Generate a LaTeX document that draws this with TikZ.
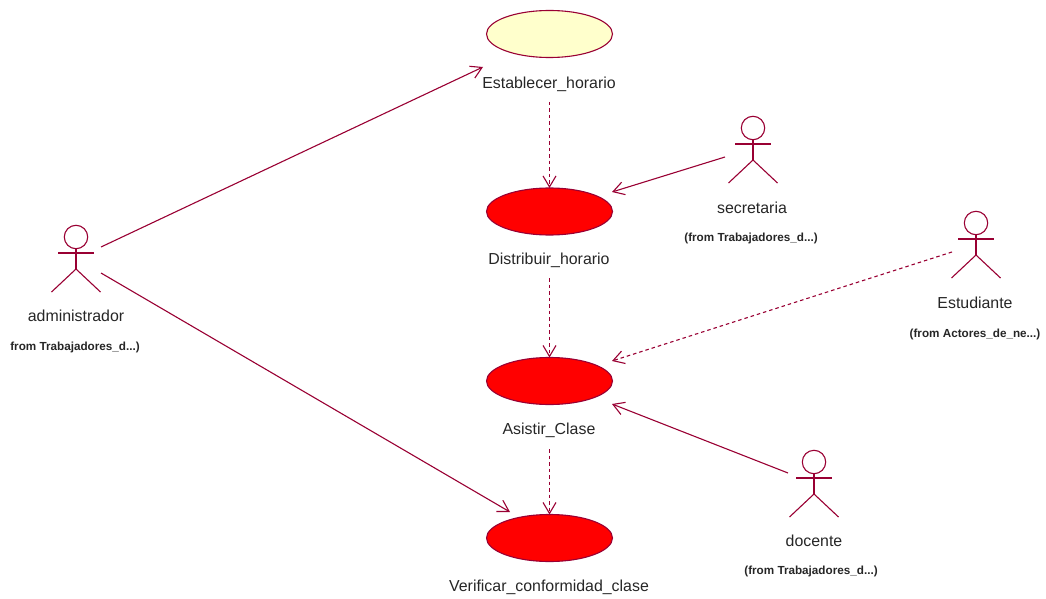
\documentclass[tikz,border=0pt]{standalone}
\usepackage{fontspec}
\setmainfont{Liberation Sans}
\usetikzlibrary{arrows.meta,calc,shapes.geometric}
\definecolor{rose}{HTML}{990033}
\definecolor{cream}{HTML}{FFFFCC}
\tikzset{
  x=1pt,y=-1pt,
  every node/.style={inner sep=0pt,outer sep=0pt},
  usecase/.style={ellipse,draw=rose,line width=1.1pt,minimum width=126pt,minimum height=47pt},
  cream case/.style={usecase,fill=cream},
  red case/.style={usecase,fill=red},
  actorbox/.style={rectangle,minimum width=50pt,minimum height=68pt},
  actor line/.style={draw=rose,line width=1.1pt},
  link/.style={draw=rose,line width=1.1pt,-{Straight Barb[length=11pt,width=13pt,line width=1.1pt]}},
  dep/.style={link,dash pattern=on 3.5pt off 3pt},
  label/.style={font=\fontsize{15.9}{18}\selectfont,text=black!85,yshift=-1pt},
  from/.style={font=\fontsize{11.7}{14}\selectfont\bfseries,text=black!85,yshift=-1.5pt},
}
\newcommand{\stickman}[3]{%
  \node[actorbox] (#1) at (#2,#3+21) {};
  \draw[actor line] (#2,#3) circle (11.7pt);
  \draw[actor line] (#2,#3+11.7) -- (#2,#3+32);
  \draw[actor line] (#2-18,#3+16) -- (#2+18,#3+16);
  \draw[actor line] (#2-24.5,#3+55) -- (#2,#3+32) -- (#2+24.5,#3+55);
}
\begin{document}
\begin{tikzpicture}
\useasboundingbox (0,0) rectangle (1046,599);
\node[cream case] (est) at (549.5,34) {};
\node[red case] (dis) at (549.5,211.5) {};
\node[red case] (asi) at (549.5,381) {};
\node[red case] (ver) at (549.5,538) {};
\stickman{admin}{76}{237}
\stickman{secre}{753}{128}
\stickman{estu}{976}{223}
\stickman{doce}{814}{462}
\node[label] (lest) at (549,83) {Establecer\_horario};
\node[label] (ldis) at (549,259) {Distribuir\_horario};
\node[label] (lasi) at (549,429) {Asistir\_Clase};
\node[label] (lver) at (549,586) {Verificar\_conformidad\_clase};
\node[label] (ladm) at (76,315) {administrador};
\node[from] (fadm) at (75,346) {from Trabajadores\_d...)};
\node[label] (lsec) at (752,207) {secretaria};
\node[from] (fsec) at (751,237) {(from Trabajadores\_d...)};
\node[label] (lstu) at (975,302) {Estudiante};
\node[from] (fstu) at (975,333) {(from Actores\_de\_ne...)};
\node[label] (ldoc) at (814,540) {docente};
\node[from] (fdoc) at (811,570) {(from Trabajadores\_d...)};
\coordinate (a1) at ($(admin.east)+(0,-11)$);
\coordinate (a2) at ($(admin.east)+(0,15)$);
\coordinate (t1) at (483,67);
\coordinate (t2) at (510,512);
\coordinate (s1) at (725,157);
\coordinate (s2) at (612,192);
\coordinate (u1) at (952,252);
\coordinate (u2) at (612,361);
\coordinate (d1) at (788,473);
\coordinate (d2) at (612,404);
\coordinate (e1) at (549.5,102);
\coordinate (e2) at (549.5,278);
\coordinate (e3) at (549.5,449);
\draw[link] (a1) -- (t1);
\draw[link] (a2) -- (t2);
\draw[link] (s1) -- (s2);
\draw[dep] (u1) -- (u2);
\draw[link] (d1) -- (d2);
\draw[dep] (e1) -- (dis.north);
\draw[dep] (e2) -- (asi.north);
\draw[dep] (e3) -- (ver.north);
\end{tikzpicture}
\end{document}
